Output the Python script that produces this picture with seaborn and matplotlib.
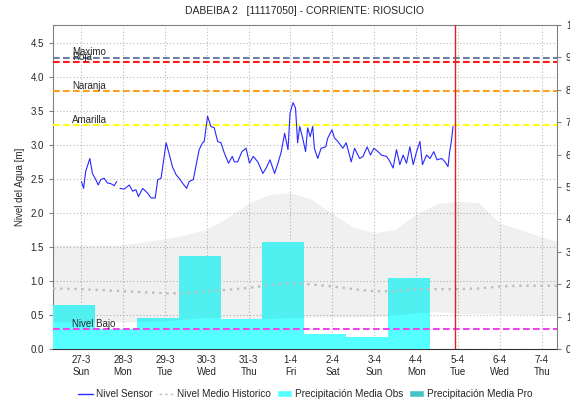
import numpy as np
import pandas as pd
import matplotlib.pyplot as plt
import seaborn as sns
from matplotlib.lines import Line2D
from matplotlib.patches import Patch

sns.set_style("white")
plt.rcParams['font.family'] = ['Liberation Sans', 'DejaVu Sans']

# x axis: days since 27-3 00:00
day_labels = ["27-3\nSun", "28-3\nMon", "29-3\nTue", "30-3\nWed", "31-3\nThu", "1-4\nFri",
              "2-4\nSat", "3-4\nSun", "4-4\nMon", "5-4\nTue", "6-4\nWed", "7-4\nThu"]
x_start, x_end = -0.67, 11.36
now_day = 8.92

# sensor level [m], two segments (gap around 28-3)
sensor_t = [0.01, 0.06, 0.11, 0.21, 0.27, 0.35, 0.41, 0.47, 0.55, 0.63, 0.71, 0.79, 0.85,
            0.93, 1.03, 1.15, 1.23, 1.31, 1.37, 1.47, 1.59, 1.67, 1.77, 1.83, 1.91, 2.03, 2.11,
            2.18, 2.27, 2.34, 2.42, 2.52, 2.58, 2.68, 2.74, 2.82, 2.90, 2.94, 3.02, 3.10, 3.18,
            3.26, 3.34, 3.42, 3.52, 3.61, 3.66, 3.74, 3.84, 3.94, 4.02, 4.11, 4.22, 4.34, 4.42,
            4.51, 4.62, 4.70, 4.78, 4.86, 4.94, 4.99, 5.06, 5.12, 5.17, 5.22, 5.29, 5.36, 5.41,
            5.47, 5.53, 5.57, 5.65, 5.73, 5.84, 5.89, 5.99, 6.05, 6.13, 6.25, 6.33, 6.45, 6.53,
            6.65, 6.73, 6.83, 6.91, 6.99, 7.09, 7.17, 7.29, 7.35, 7.45, 7.53, 7.61, 7.69, 7.77,
            7.85, 7.93, 8.01, 8.09, 8.15, 8.25, 8.33, 8.42, 8.50, 8.61, 8.69, 8.76, 8.80, 8.84,
            8.88]
sensor_m = [2.46, 2.36, 2.61, 2.80, 2.58, 2.49, 2.41, 2.49, 2.51, 2.44, 2.43, 2.40, 2.46,
            2.36, 2.35, 2.41, 2.32, 2.34, 2.24, 2.36, 2.29, 2.22, 2.22, 2.49, 2.51, 3.03, 2.85,
            2.68, 2.56, 2.51, 2.44, 2.36, 2.46, 2.49, 2.68, 2.93, 3.03, 3.05, 3.42, 3.27, 3.25,
            3.05, 3.03, 2.88, 2.73, 2.83, 2.75, 2.75, 2.90, 2.95, 2.73, 2.83, 2.75, 2.58, 2.66,
            2.78, 2.58, 2.73, 2.90, 3.17, 2.93, 3.47, 3.62, 3.54, 3.03, 3.27, 3.10, 2.90, 3.25,
            3.12, 3.27, 2.95, 2.80, 2.95, 2.97, 3.10, 3.22, 3.10, 3.05, 2.95, 3.03, 2.75, 2.95,
            2.80, 2.83, 2.97, 2.85, 2.95, 2.90, 2.85, 2.83, 2.78, 2.66, 2.93, 2.71, 2.85, 2.73,
            2.97, 2.71, 2.90, 3.05, 2.71, 2.85, 2.80, 2.90, 2.78, 2.80, 2.75, 2.68, 2.90, 3.05,
            3.27]
sensor_seg = [0] * 13 + [1] * (len(sensor_t) - 13)

# historical band and mean [m]
hist_t = [-0.67, 0, 1, 2, 2.5, 3, 3.5, 4, 4.5, 5, 5.5, 6, 6.5, 7, 7.5, 8, 8.5, 9, 9.5, 10, 10.5, 11, 11.36]
hist_low = [0.40, 0.40, 0.40, 0.41, 0.44, 0.47, 0.46, 0.45, 0.45, 0.46, 0.47, 0.47, 0.47, 0.48,
            0.50, 0.53, 0.55, 0.52, 0.52, 0.51, 0.51, 0.50, 0.50]
hist_high = [1.53, 1.53, 1.53, 1.62, 1.68, 1.76, 1.93, 2.15, 2.27, 2.30, 2.20, 1.99, 1.79, 1.71,
             1.76, 1.98, 2.14, 2.17, 2.15, 1.85, 1.75, 1.65, 1.58]
hist_mean = [0.89, 0.88, 0.85, 0.82, 0.82, 0.85, 0.87, 0.90, 0.94, 0.97, 0.95, 0.92, 0.88, 0.85,
             0.85, 0.88, 0.88, 0.88, 0.89, 0.92, 0.93, 0.93, 0.93]

# daily precipitation (right axis), each day ends 08:00
precip_days = [0, 1, 2, 3, 4, 5, 6, 7, 8]
precip_obs = [13.6, 6.2, 9.7, 28.8, 9.2, 33.1, 4.6, 3.8, 22.0]

# alert levels [m]
level_names = ["Maximo", "Roja", "Naranja", "Amarilla", "Nivel Bajo"]
level_values = [4.28, 4.21, 3.79, 3.29, 0.29]
level_colors = ["#6F7FA6", "#FF1A1A", "#FF9F1F", "#FFFF1A", "#EE44EE"]

fig = plt.figure(figsize=(5.7, 4.04), dpi=100)
ax = fig.add_axes([0.093, 0.136, 0.884, 0.802])
ax_b = ax.twinx()
ax_l = ax.twinx()

# base axis: grid + left scale
ax.set_xlim(x_start, x_end)
ax.set_ylim(0, 4.76)
ax.set_yticks(np.arange(0, 4.6, 0.5))
ax.set_yticklabels([f"{v:.1f}" for v in np.arange(0, 4.6, 0.5)])
ax.set_xticks(range(len(day_labels)))
ax.set_xticklabels(day_labels, fontsize=7, linespacing=1.3)
ax.grid(True, color="#BBBBBB", linestyle=(0, (1, 2)), linewidth=0.8)
ax.tick_params(axis='x', length=0, pad=4)
ax.tick_params(axis='y', length=3, labelsize=7, color="#808080", left=True)
ax.set_ylabel("Nivel del Agua [m]", fontsize=7)
ax.set_title("DABEIBA 2   [11117050] - CORRIENTE: RIOSUCIO", fontsize=7.5, pad=8)
for s in ['left', 'right', 'top']:
    ax.spines[s].set_color("#808080")
ax.spines['bottom'].set_color("#333333")
ax.spines['bottom'].set_linestyle((0, (1, 1)))

# precipitation bars on right scale
ax_b.set_ylim(0, 100)
ax_b.set_yticks(range(0, 101, 10))
ax_b.tick_params(axis='y', length=3, labelsize=7, color="#808080", right=True)
ax_b.bar(np.array(precip_days) + x_start, precip_obs, width=1.0, align='edge',
         color="#55FFFF", linewidth=0)
for s in ax_b.spines.values():
    s.set_visible(False)

# levels on top
ax_l.set_ylim(0, 4.76)
ax_l.set_yticks([])
for s in ax_l.spines.values():
    s.set_visible(False)
ax_l.fill_between(hist_t, hist_low, hist_high, color="black", alpha=0.06, linewidth=0)
sns.lineplot(x=hist_t, y=hist_mean, ax=ax_l, color="#BDBDBD", linestyle=(0, (1, 2)), linewidth=1.7)
for name, val, col in zip(level_names, level_values, level_colors):
    ax_l.axhline(val, color=col, linestyle=(0, (3.2, 1.6)), linewidth=1.5)
    ax_l.text(-0.21, val + 0.005, name, fontsize=7, va='bottom', ha='left')

df = pd.DataFrame({"t": sensor_t, "m": sensor_m, "seg": sensor_seg})
sns.lineplot(data=df, x="t", y="m", units="seg", estimator=None, ax=ax_l,
             color="#2828FF", linewidth=0.8)
ax_l.axvline(now_day, color="#E02020", linewidth=1)
ax_l.set_xlabel("")
ax_l.set_ylabel("")
ax_l.set_xlim(x_start, x_end)

handles = [Line2D([], [], color="#2828FF", linewidth=1),
           Line2D([], [], color="#C4C4C4", linestyle=(0, (2, 2)), linewidth=1),
           Patch(facecolor="#55FFFF"),
           Patch(facecolor="#45C4C4")]
labels = ["Nivel Sensor", "Nivel Medio Historico", "Precipitación Media Obs", "Precipitación Media Pro"]
fig.legend(handles, labels, loc="lower center", bbox_to_anchor=(0.536, -0.01), ncol=4,
           frameon=False, fontsize=7.2, handlelength=1.5, handletextpad=0.3, columnspacing=0.6)

fig.savefig("out.png", dpi=100)
